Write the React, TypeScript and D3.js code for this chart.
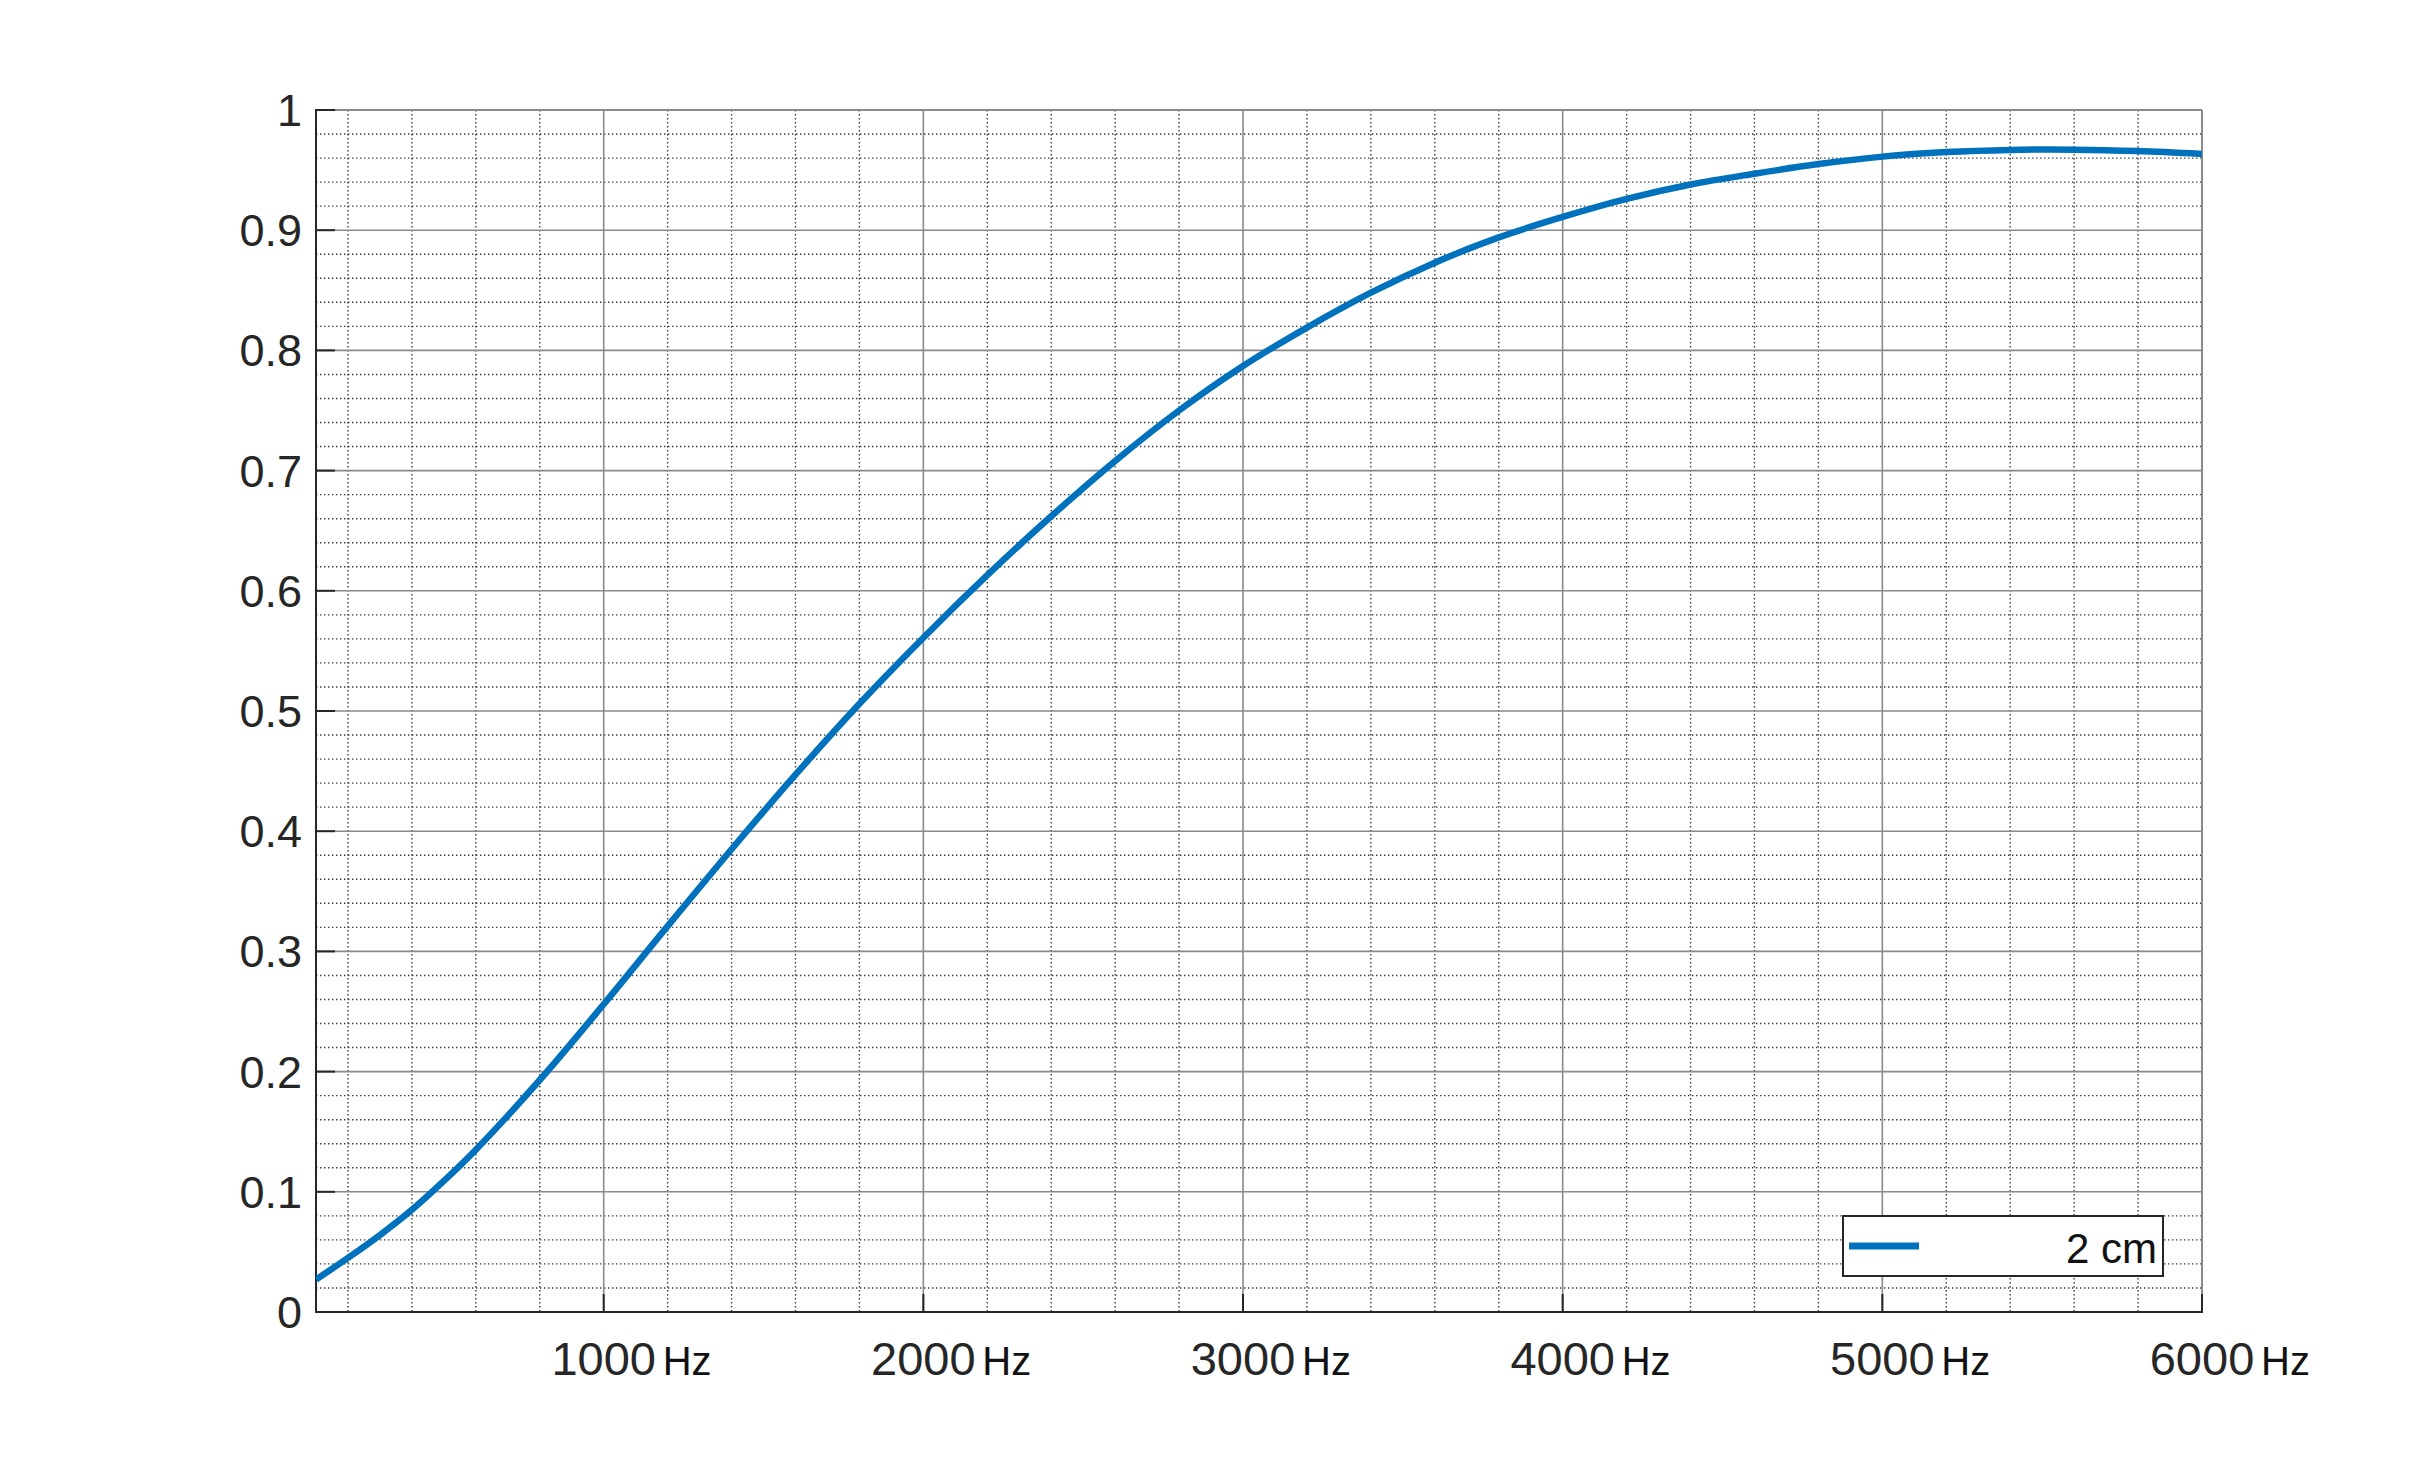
import React from "react";
import * as d3 from "d3";

// ---- data ----
const freqs: number[] = [100, 200, 300, 400, 500, 600, 800, 1000, 1200, 1400, 1600, 1800, 2000, 2200, 2400, 2600, 2800, 3000, 3200, 3400, 3600, 3800, 4000, 4200, 4400, 4600, 4800, 5000, 5200, 5400, 5600, 5800, 6000];
const values: number[] = [0.027, 0.045, 0.064, 0.085, 0.109, 0.135, 0.193, 0.256, 0.321, 0.385, 0.447, 0.506, 0.561, 0.613, 0.662, 0.708, 0.75, 0.787, 0.819, 0.848, 0.873, 0.894, 0.911, 0.926, 0.938, 0.947, 0.955, 0.9612, 0.965, 0.9668, 0.967, 0.9658, 0.9634];
const xTicks: number[] = [1000, 2000, 3000, 4000, 5000, 6000];
const xTickUnit = "Hz";
const yTicks: number[] = [0, 0.1, 0.2, 0.3, 0.4, 0.5, 0.6, 0.7, 0.8, 0.9, 1];
const xDomain: [number, number] = [100, 6000];
const yDomain: [number, number] = [0, 1];
const seriesName = "2 cm";

const W = 2434;
const H = 1475;
const left = 316;
const right = 2202;
const top = 110;
const bottom = 1312;

const FONT = "'Liberation Sans', Arial, Helvetica, sans-serif";
const TEXT = "#262626";
const BLUE = "#0072BD";
const GRID = "#8a8a8a";
const MINOR = "#3a3a3a";

export default function App() {
  const x = d3.scaleLinear().domain(xDomain).range([left, right]);
  const y = d3.scaleLinear().domain(yDomain).range([bottom, top]);

  const minorX = d3.range(200, 6000, 200).filter((v) => v % 1000 !== 0);
  const minorY = d3.range(0.02, 1.0, 0.02).filter((v) => Math.abs(v * 10 - Math.round(v * 10)) > 1e-6);

  const pts: [number, number][] = freqs.map((f, i) => [f, values[i]]);
  const line = d3
    .line<[number, number]>()
    .x((d) => x(d[0]))
    .y((d) => y(d[1]))
    .curve(d3.curveCatmullRom.alpha(0.5));

  return (
    <svg
      width={W}
      height={H}
      style={{ position: "absolute", left: 0, top: 0, background: "#fff" }}
      fontFamily={FONT}
    >
      <rect x={0} y={0} width={W} height={H} fill="#fff" />
      <defs>
        <clipPath id="plot">
          <rect x={left} y={top - 4} width={right - left} height={bottom - top + 4} />
        </clipPath>
      </defs>
      {/* minor grid */}
      <g stroke={MINOR} strokeWidth={1.4} strokeDasharray="1.4,2.6">
        {minorX.map((v) => (
          <line key={"mx" + v} x1={x(v)} x2={x(v)} y1={top} y2={bottom} />
        ))}
        {minorY.map((v) => (
          <line key={"my" + v} x1={left} x2={right} y1={y(v)} y2={y(v)} />
        ))}
      </g>
      {/* major grid */}
      <g stroke={GRID} strokeWidth={1.6}>
        {xTicks.map((v) => (
          <line key={"gx" + v} x1={x(v)} x2={x(v)} y1={top} y2={bottom} />
        ))}
        {yTicks.map((v) => (
          <line key={"gy" + v} x1={left} x2={right} y1={y(v)} y2={y(v)} />
        ))}
      </g>
      {/* box */}
      <line x1={left} x2={right} y1={top} y2={top} stroke={GRID} strokeWidth={2} />
      <line x1={right} x2={right} y1={top} y2={bottom} stroke={GRID} strokeWidth={2} />
      <line x1={left} x2={left} y1={top - 1} y2={bottom + 1} stroke={TEXT} strokeWidth={2} />
      <line x1={left - 1} x2={right + 1} y1={bottom} y2={bottom} stroke={TEXT} strokeWidth={2} />
      {/* ticks */}
      <g stroke={TEXT} strokeWidth={2}>
        {yTicks.map((v) => (
          <line key={"ty" + v} x1={left} x2={left + 19} y1={y(v)} y2={y(v)} />
        ))}
        {xTicks.map((v) => (
          <line key={"tx" + v} x1={x(v)} x2={x(v)} y1={bottom} y2={bottom - 18} />
        ))}
      </g>
      {/* curve */}
      <path d={line(pts) || ""} fill="none" stroke={BLUE} strokeWidth={6.5} clipPath="url(#plot)" strokeLinejoin="round" />
      {/* y labels */}
      <g fill={TEXT} fontSize={45} textAnchor="end">
        {yTicks.map((v) => (
          <text key={"ly" + v} x={302} y={y(v) + 16}>
            {d3.format("")(Math.round(v * 10) / 10)}
          </text>
        ))}
      </g>
      {/* x labels */}
      <g fill={TEXT}>
        {xTicks.map((v) => (
          <g key={"lx" + v}>
            <text x={x(v)} y={1375} fontSize={47} textAnchor="middle">
              {String(v)}
            </text>
            <text x={x(v) + 59} y={1375} fontSize={40} fill="#111">
              {xTickUnit}
            </text>
          </g>
        ))}
      </g>
      {/* legend */}
      <rect x={1843} y={1216} width={320} height={60} fill="#fff" stroke={TEXT} strokeWidth={2} />
      <line x1={1849} x2={1919} y1={1246} y2={1246} stroke={BLUE} strokeWidth={7} />
      <text x={2157} y={1263} fontSize={42} textAnchor="end" fill="#111">
        {seriesName}
      </text>
    </svg>
  );
}
